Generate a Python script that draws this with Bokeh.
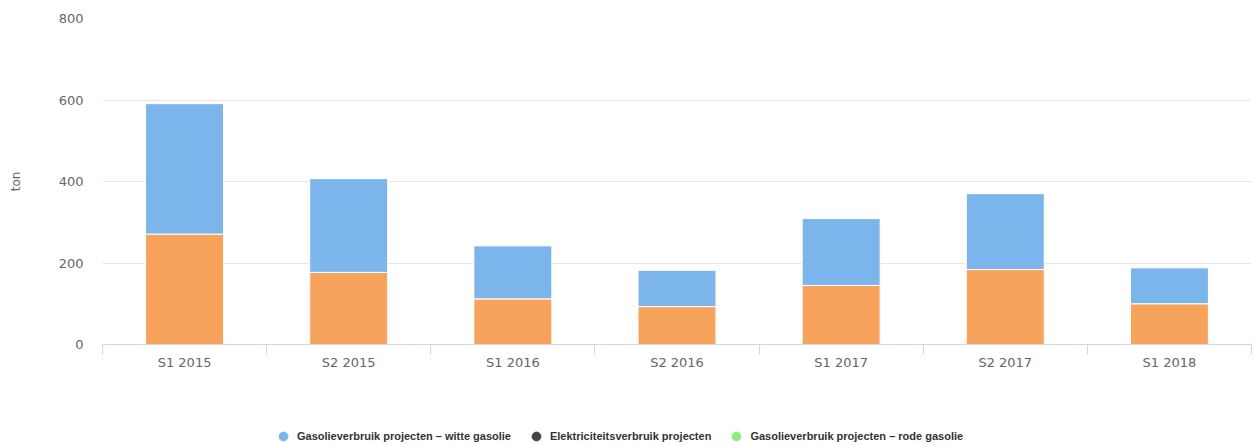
from bokeh.plotting import figure
from bokeh.models import ColumnDataSource, Range1d, FixedTicker, Legend, LegendItem
from bokeh.layouts import column
from bokeh.embed import file_html
from bokeh.resources import INLINE

# ---- data ----
categories = ["S1 2015", "S2 2015", "S1 2016", "S2 2016", "S1 2017", "S2 2017", "S1 2018"]
witte_gasolie = [320, 230, 130, 89, 164, 186, 88]      # blue, top of stack
onderste_reeks = [271, 177, 112, 93, 145, 184, 100]    # orange, bottom of stack
y_ticks = [0, 200, 400, 600, 800]
legend_labels = [
    "Gasolieverbruik projecten – witte gasolie",
    "Elektriciteitsverbruik projecten",
    "Gasolieverbruik projecten – rode gasolie",
]
legend_colors = ["#7cb5ec", "#434348", "#90ed7d"]

FONT = "DejaVu Sans"

n = len(categories)
xs = [i + 0.5 for i in range(n)]
src = ColumnDataSource(dict(x=xs, onder=onderste_reeks, witte=witte_gasolie))

p = figure(width=1259, height=390,
           x_range=Range1d(0, n), y_range=Range1d(0, 800),
           output_backend="svg", toolbar_location=None,
           min_border_left=102, min_border_right=8,
           min_border_top=18, min_border_bottom=46)
p.outline_line_color = None
p.background_fill_color = "white"
p.border_fill_color = "white"

p.vbar_stack(["onder", "witte"], x="x", width=0.475, source=src,
             fill_color=["#f7a35c", "#7cb5ec"], line_color="white", line_width=1)

# y axis
p.yaxis.ticker = FixedTicker(ticks=y_ticks)
p.yaxis.axis_line_color = None
p.yaxis.major_tick_line_color = None
p.yaxis.minor_tick_line_color = None
p.yaxis.major_tick_out = 0
p.yaxis.major_tick_in = 0
p.yaxis.major_label_standoff = 19
p.yaxis.major_label_text_font = FONT
p.yaxis.major_label_text_font_size = "13px"
p.yaxis.major_label_text_color = "#666666"
p.yaxis.axis_label = "ton"
p.yaxis.axis_label_text_font = FONT
p.yaxis.axis_label_text_font_size = "12px"
p.yaxis.axis_label_text_font_style = "normal"
p.yaxis.axis_label_text_color = "#666666"
p.yaxis.axis_label_standoff = 33
p.ygrid.ticker = FixedTicker(ticks=y_ticks)
p.ygrid.grid_line_color = "#e6e6e6"
p.xgrid.grid_line_color = None

# x axis: labels at centres, tick marks at category boundaries (minor ticks)
p.xaxis.ticker = FixedTicker(ticks=xs, minor_ticks=list(range(n + 1)))
p.xaxis.major_label_overrides = {x: c for x, c in zip(xs, categories)}
p.xaxis.major_tick_line_color = None
p.xaxis.major_tick_out = 0
p.xaxis.major_tick_in = 0
p.xaxis.minor_tick_in = 0
p.xaxis.minor_tick_out = 10
p.xaxis.minor_tick_line_color = "#ccd6eb"
p.xaxis.axis_line_color = "#ccd6eb"
p.xaxis.major_label_standoff = 0
p.xaxis.major_label_text_font = FONT
p.xaxis.major_label_text_font_size = "13px"
p.xaxis.major_label_text_color = "#666666"

# legend strip below the chart
lg = figure(width=1259, height=55, x_range=Range1d(0, 1), y_range=Range1d(0, 1),
            output_backend="svg", toolbar_location=None,
            x_axis_type=None, y_axis_type=None,
            min_border_left=0, min_border_right=0, min_border_top=0, min_border_bottom=0)
lg.outline_line_color = None
lg.xgrid.grid_line_color = None
lg.ygrid.grid_line_color = None
items = []
for lab, col in zip(legend_labels, legend_colors):
    # size-0 placeholder: only its legend swatch is visible
    r = lg.scatter(x=[0], y=[0], size=0, marker="circle", fill_color=col, line_color=col)
    items.append(LegendItem(label=lab, renderers=[r]))
legend = Legend(items=items, orientation="horizontal", location=(170, -2),
                border_line_color=None, background_fill_alpha=0,
                padding=0, margin=0, spacing=14,
                glyph_width=22, glyph_height=22, label_height=22,
                label_standoff=3,
                label_text_font="Liberation Sans",
                label_text_font_style="bold",
                label_text_font_size="11px",
                label_text_color="#333333")
lg.add_layout(legend, "center")

layout = column(p, lg, spacing=0)
open("out.html", "w").write(file_html(layout, INLINE))
